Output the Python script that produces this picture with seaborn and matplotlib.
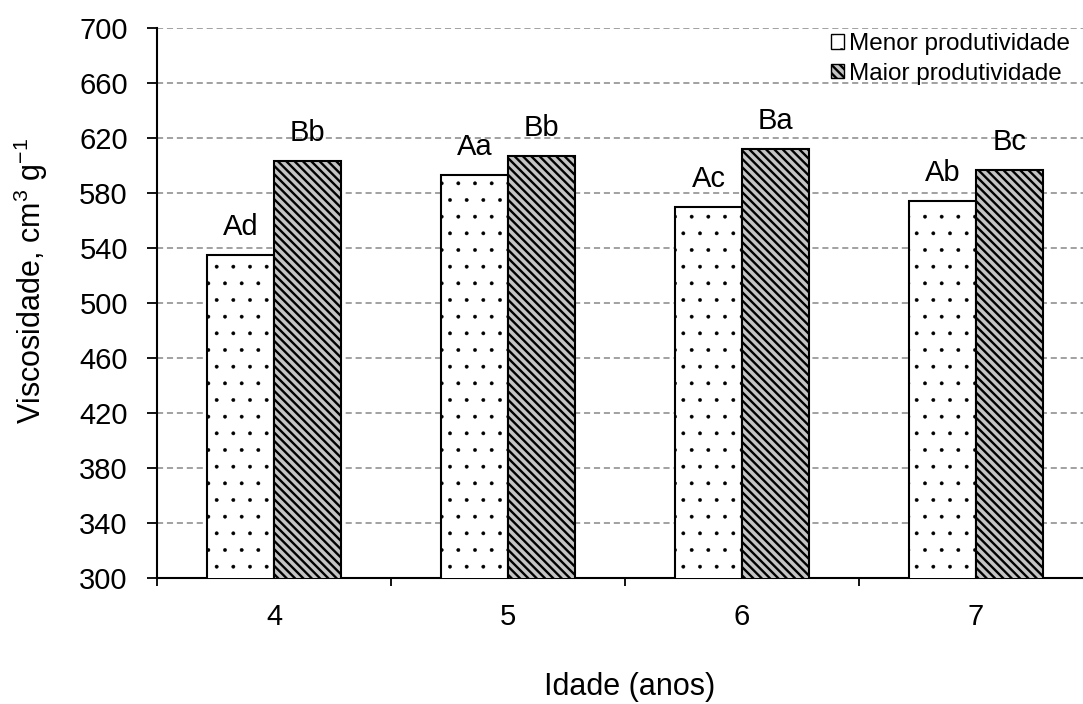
import matplotlib
matplotlib.use("Agg")
import matplotlib.pyplot as plt
import seaborn as sns
import pandas as pd
from matplotlib.ticker import FixedLocator

# ---- data ----
idades = ["4", "5", "6", "7"]
menor = [535, 593, 570, 574]
maior = [603, 607, 612, 597]
letras_menor = ["Ad", "Aa", "Ac", "Ab"]
letras_maior = ["Bb", "Bb", "Ba", "Bc"]
series = ["Menor produtividade", "Maior produtividade"]
yticks = [300, 340, 380, 420, 460, 500, 540, 580, 620, 660, 700]

df = pd.DataFrame({
    "idade": idades * 2,
    "valor": menor + maior,
    "grupo": [series[0]] * len(idades) + [series[1]] * len(idades),
})

sns.set_style("white")
plt.rcParams["font.family"] = ["Liberation Sans", "DejaVu Sans"]
plt.rcParams["mathtext.fontset"] = "custom"
plt.rcParams["mathtext.rm"] = "Liberation Sans"
plt.rcParams["mathtext.default"] = "regular"
plt.rcParams["hatch.linewidth"] = 1.0
for k in ["text.color", "axes.labelcolor", "xtick.color", "ytick.color"]:
    plt.rcParams[k] = "black"

fig = plt.figure(figsize=(10.83, 7.04), dpi=100)
ax = fig.add_axes([157 / 1083, 1 - 578 / 704, 926 / 1083, 550 / 704])

sns.barplot(data=df, x="idade", y="valor", hue="grupo", hue_order=series,
            order=idades, width=0.57, ax=ax, errorbar=None,
            edgecolor="black", linewidth=1.5, zorder=3)

styles = [dict(facecolor="white", hatch=".", hlw=0.3),
          dict(facecolor="#c4c4c4", hatch="\\\\\\\\", hlw=1.7)]


def style_patch(p, st):
    p.set_facecolor(st["facecolor"])
    p.set_hatch(st["hatch"])
    p.set_edgecolor("black")
    if hasattr(p, "set_hatch_linewidth"):
        p.set_hatch_linewidth(st["hlw"])


for cont, st in zip(ax.containers, styles):
    for p in cont:
        style_patch(p, st)

for cont, labs in zip(ax.containers, [letras_menor, letras_maior]):
    ax.bar_label(cont, labels=labs, padding=10, fontsize=21, color="black")

ax.set_ylim(300, 700)
ax.set_xlim(-0.5, -0.5 + 926 / 234)
ax.set_yticks(yticks)
ax.yaxis.grid(True, linestyle=(0, (4, 2.5)), color="#888888", linewidth=1.1, zorder=0)
ax.xaxis.grid(False)
ax.set_axisbelow(True)

for s in ["top", "right"]:
    ax.spines[s].set_visible(False)
for s in ["left", "bottom"]:
    ax.spines[s].set_color("black")
    ax.spines[s].set_linewidth(1.5)

ax.tick_params(axis="y", which="major", direction="out", length=7, width=1.3,
               left=True, labelsize=21, pad=14, colors="black")
ax.tick_params(axis="x", which="major", length=0, labelsize=21, pad=18,
               colors="black")
ax.xaxis.set_minor_locator(FixedLocator([-0.5, 0.5, 1.5, 2.5, 3.5]))
ax.tick_params(axis="x", which="minor", direction="out", length=6, width=1.3,
               bottom=True, color="black")

ax.set_xlabel("Idade (anos)", fontsize=22)
ax.xaxis.set_label_coords((630 - 157) / 926, -0.170)
ax.set_ylabel("Viscosidade, cm$^{3}$ g$^{-1}$", fontsize=22)
ax.yaxis.set_label_coords(-0.116, (578 - 281) / 550)

leg = ax.legend(loc="upper right", bbox_to_anchor=(1.0 - 3 / 926, 1.008),
                frameon=False, fontsize=17.5, handlelength=0.55, handleheight=0.55,
                handletextpad=0.2, labelspacing=0.3, borderaxespad=0)
for h, st in zip(leg.legend_handles, styles):
    style_patch(h, st)
    h.set_linewidth(1.0)
for t in leg.get_texts():
    t.set_color("black")

fig.savefig("out.png", dpi=100)
